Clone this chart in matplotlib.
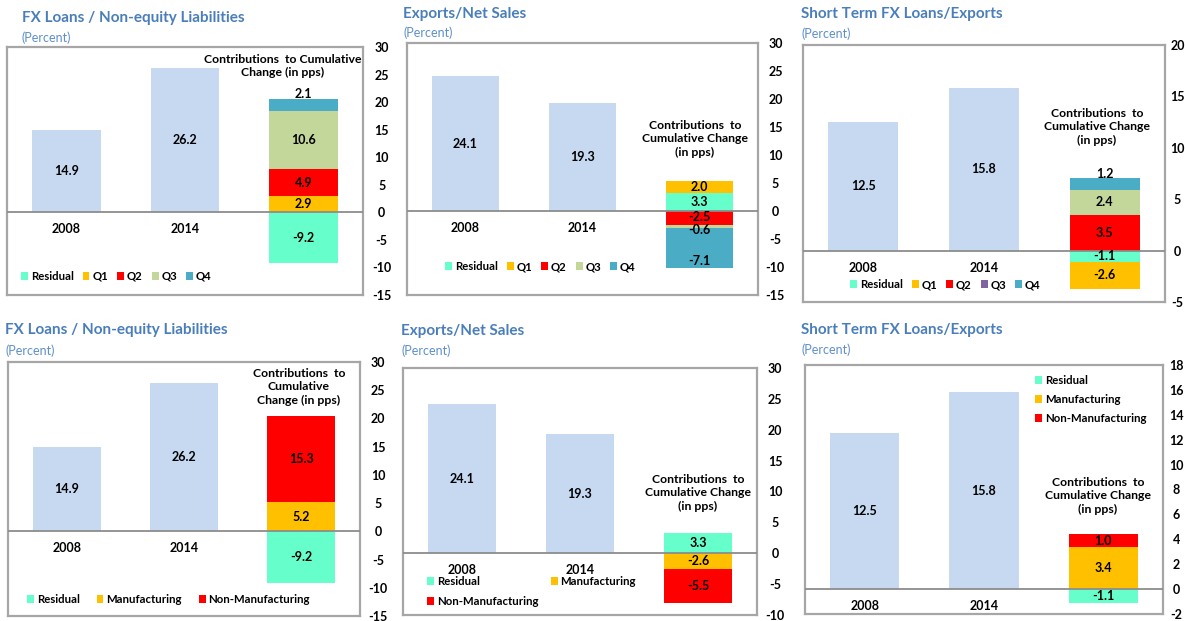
import matplotlib
matplotlib.use('Agg')
import matplotlib.pyplot as plt
from matplotlib.patches import Patch
from matplotlib.transforms import offset_copy

plt.rcParams['font.family'] = ['Lato', 'DejaVu Sans']
plt.rcParams['axes.unicode_minus'] = False

# ---------------- data ----------------
years = ['2008', '2014']

title_fx = 'FX Loans / Non-equity Liabilities'
title_exp = 'Exports/Net Sales'
title_st = 'Short Term FX Loans/Exports'
subtitle = '(Percent)'
note_two_lines = 'Contributions  to Cumulative\nChange (in pps)'
note_three_lines = 'Contributions  to\nCumulative Change\n(in pps)'
note_three_lines_b = 'Contributions  to\nCumulative\nChange (in pps)'

fx_levels = [14.9, 26.2]
exp_levels = [24.1, 19.3]
st_levels = [12.5, 15.8]

quarter_names = ['Residual', 'Q1', 'Q2', 'Q3', 'Q4']
fx_quarters = [-9.2, 2.9, 4.9, 10.6, 2.1]
exp_quarters = [3.3, 2.0, -2.5, -0.6, -7.1]
st_quarters = [-1.1, -2.6, 3.5, 2.4, 1.2]

sector_names = ['Residual', 'Manufacturing', 'Non-Manufacturing']
fx_sectors = [-9.2, 5.2, 15.3]
exp_sectors = [3.3, -2.6, -5.5]
st_sectors = [-1.1, 3.4, 1.0]

yticks_fx = list(range(-15, 31, 5))
yticks_exp_q = list(range(-15, 31, 5))
yticks_st_q = list(range(-5, 21, 5))
yticks_exp_s = list(range(-10, 31, 5))
yticks_st_s = list(range(-2, 19, 2))

# ---------------- style ----------------
W, H, DPI = 1185, 621, 100
LEVEL_COLOR = '#C6D9F1'
Q_COLORS = ['#66FFCC', '#FFC000', '#FF0000', '#C4D79B', '#4BACC6']
Q_LEGEND_COLORS_ST = ['#66FFCC', '#FFC000', '#FF0000', '#8064A2', '#4BACC6']
S_COLORS = ['#66FFCC', '#FFC000', '#FF0000']
TITLE_COLOR = '#4A7EBB'
SUB_COLOR = '#5E8FCB'
FRAME_COLOR = '#A6A6A6'
ZERO_COLOR = '#8C8C8C'
BAR_W = 0.58
LBL_SIZE = 9

fig = plt.figure(figsize=(W / DPI, H / DPI), dpi=DPI)
fig.patch.set_facecolor('white')


def fx(x):
    return x / W


def fy(y):
    return 1 - y / H


def panel(box, levels, contribs, names, colors, yticks, title, title_xy, sub_xy,
          note, note_xy, leg_xy, leg_kw, tick_pad, label_offsets, legend_colors=None,
          leg_order=None):
    l, t, r, b = box
    ax = fig.add_axes([fx(l), fy(b), (r - l) / W, (b - t) / H])
    ax.set_xlim(-0.5, 2.5)
    ax.set_ylim(yticks[0], yticks[-1])
    ax.set_xticks([])
    ax.set_yticks(yticks)
    ax.yaxis.tick_right()
    ax.tick_params(axis='y', length=0, pad=tick_pad, labelsize=9)
    for tk in ax.yaxis.get_major_ticks():
        tk.label2.set_horizontalalignment('center')
        tk.label2.set_fontweight('bold')
    for sp in ax.spines.values():
        sp.set_color(FRAME_COLOR)
        sp.set_linewidth(1.6)

    # level bars
    ax.bar(range(len(levels)), levels, width=BAR_W, color=LEVEL_COLOR, zorder=2)
    for i, v in enumerate(levels):
        ax.text(i, v / 2, f'{v:.1f}', ha='center', va='center',
                fontsize=LBL_SIZE, fontweight='bold', zorder=5)
    # category labels below zero line
    for i, yr in enumerate(years):
        ax.annotate(yr, xy=(i, 0), xytext=(0, -17), textcoords='offset pixels',
                    ha='center', va='center', fontsize=LBL_SIZE, fontweight='bold')

    # stacked contributions
    pos, neg = 0.0, 0.0
    xs = len(levels)
    for v, c, off in zip(contribs, colors, label_offsets):
        if v >= 0:
            bottom = pos
            pos += v
        else:
            bottom = neg
            neg += v
        ax.bar(xs, v, bottom=bottom, width=BAR_W, color=c, zorder=2)
        tr = offset_copy(ax.transData, fig=fig, x=0, y=off, units='dots')
        ax.text(xs, bottom + v / 2, f'{v:.1f}', transform=tr, ha='center',
                va='center', fontsize=LBL_SIZE, fontweight='bold', zorder=5)

    ax.axhline(0, color=ZERO_COLOR, lw=1.3, zorder=4)

    # titles and note
    fig.text(fx(title_xy[0]), fy(title_xy[1]), title, color=TITLE_COLOR,
             fontsize=11, fontweight='bold', ha='left', va='center')
    fig.text(fx(sub_xy[0]), fy(sub_xy[1]), subtitle, color=SUB_COLOR,
             fontsize=9, ha='left', va='center')
    fig.text(fx(note_xy[0]), fy(note_xy[1]), note, ha='center', va='center',
             multialignment='center', fontsize=8.8, fontweight='bold',
             linespacing=1.3)

    # legend
    lc = legend_colors if legend_colors is not None else colors
    handles = [Patch(facecolor=c, edgecolor='none') for c in lc]
    labels = list(names)
    if leg_order is not None:
        handles = [handles[k] for k in leg_order]
        labels = [labels[k] for k in leg_order]
    kw = dict(loc='upper left', bbox_to_anchor=(fx(leg_xy[0]), fy(leg_xy[1])),
              frameon=False, borderpad=0, borderaxespad=0, handlelength=0.6,
              handleheight=0.6, handletextpad=0.25,
              prop={'weight': 'bold', 'size': 8.2})
    kw.update(leg_kw)
    fig.legend(handles, labels, **kw)
    return ax


# top row (quarters)
panel((7, 47, 363, 295), fx_levels, fx_quarters, quarter_names, Q_COLORS, yticks_fx,
      title_fx, (22, 18), (22, 38), note_two_lines, (283, 66), (21, 271),
      dict(ncol=5, columnspacing=0.8), 13.5, [0, 0, 0, 0, 11])
panel((407, 43, 758, 295), exp_levels, exp_quarters, quarter_names, Q_COLORS, yticks_exp_q,
      title_exp, (403, 14), (403, 33), note_three_lines, (695, 139), (445, 261),
      dict(ncol=5, columnspacing=0.8), 12.5, [0, 0, 1, -3, -13])
panel((803, 45, 1165, 302), st_levels, st_quarters, quarter_names, Q_COLORS, yticks_st_q,
      title_st, (801, 14), (801, 34), note_three_lines, (1097, 127), (850, 279),
      dict(ncol=5, columnspacing=0.8), 9, [0, 0, 0, 0, 10],
      legend_colors=Q_LEGEND_COLORS_ST)

# bottom row (sectors)
panel((8, 362, 360, 616), fx_levels, fx_sectors, sector_names, S_COLORS, yticks_fx,
      title_fx, (5, 330), (5, 351), note_three_lines_b, (299, 387), (27, 594),
      dict(ncol=3, columnspacing=1.5), 13, [0, 0, 0])
panel((403, 368, 757, 615), exp_levels, exp_sectors, sector_names, S_COLORS, yticks_exp_s,
      title_exp, (401, 331), (401, 351), note_three_lines, (698, 493), (427, 576),
      dict(ncol=2, columnspacing=1.1, labelspacing=0.8), 13, [0, 0, 0],
      leg_order=[0, 2, 1])
panel((805, 365, 1163, 614), st_levels, st_sectors, sector_names, S_COLORS, yticks_st_s,
      title_st, (801, 330), (801, 350), note_three_lines, (1098, 496), (1035, 375),
      dict(ncol=1, labelspacing=0.7), 9.5, [0, 0, 0])

fig.savefig('out.png', dpi=DPI, facecolor='white')
